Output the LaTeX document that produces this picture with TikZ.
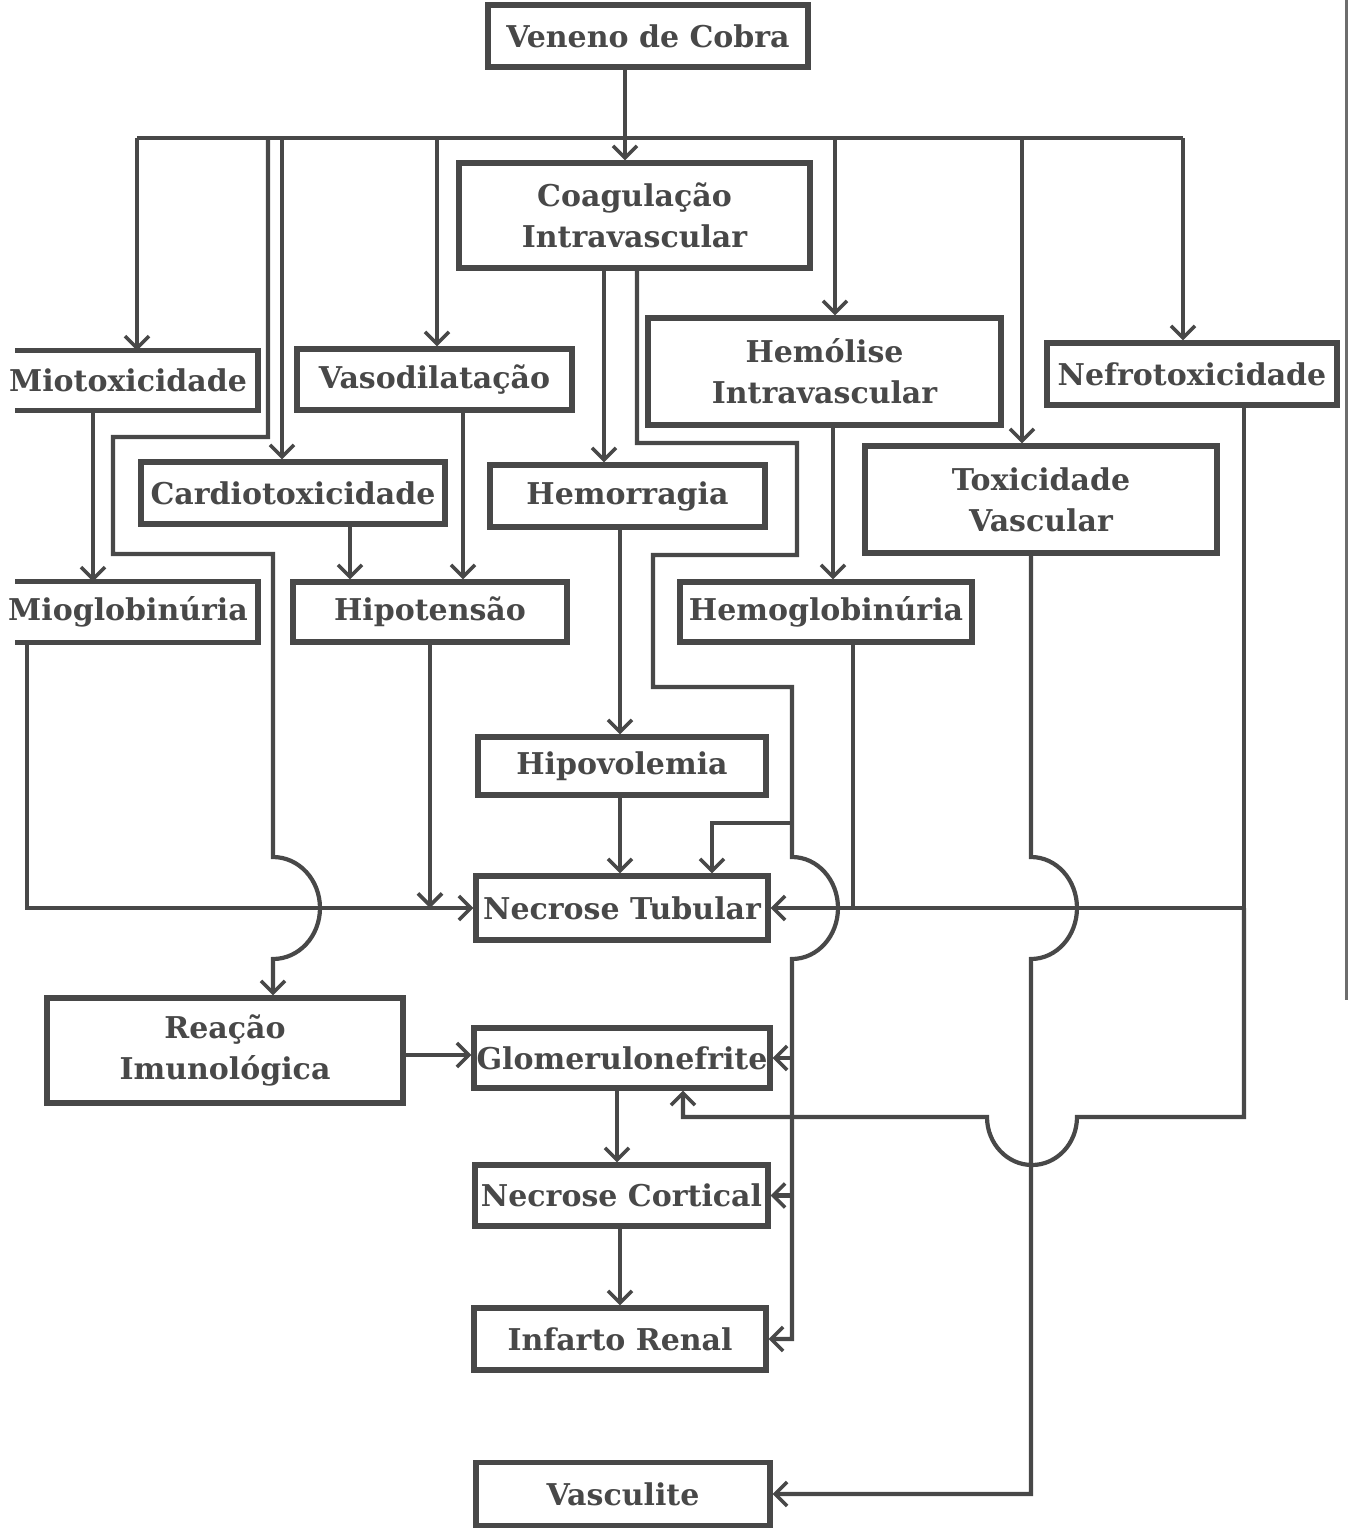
\documentclass[tikz,border=0pt]{standalone}
\usepackage{fontspec}
\setmainfont{DejaVu Serif}
\usetikzlibrary{arrows.meta}
\definecolor{ink}{RGB}{72,72,72}
\begin{document}
\begin{tikzpicture}[x=0.5pt,y=-0.5pt,
  txt/.style={text=ink, font=\fontsize{15}{20.5}\selectfont\bfseries, align=center, inner sep=0pt},
  box/.style={txt, draw=ink, line width=2.6pt},
  boxline/.style={draw=ink, line width=2.6pt},
  link/.style={draw=ink, line width=2.1pt},
  arr/.style={link, -{Straight Barb[length=6pt,width=12pt,line width=1.8pt]}},
]
\useasboundingbox (0,0) rectangle (1350,1528);

% ---------- nodes ----------
\node[box, minimum width=160pt, minimum height=31pt] (ven) at (648,36) {Veneno de Cobra};
\node[box, minimum width=175.5pt, minimum height=52.5pt] (coag) at (634.5,215.5) {Coagulação\\Intravascular};
\node[txt, minimum width=130pt, minimum height=29.5pt] (mio) at (128,380.5) {Miotoxicidade};
\node[box, minimum width=137.5pt, minimum height=30.5pt] (vaso) at (434.5,379.5) {Vasodilatação};
\node[box, minimum width=176.5pt, minimum height=53.5pt] (hemol) at (824.5,371.5) {Hemólise\\Intravascular};
\node[box, minimum width=145pt, minimum height=31pt] (nefro) at (1192,374) {Nefrotoxicidade};
\node[box, minimum width=152pt, minimum height=31pt] (card) at (293,493) {Cardiotoxicidade};
\node[box, minimum width=137.5pt, minimum height=31pt] (hemor) at (627.5,496) {Hemorragia};
\node[box, minimum width=176pt, minimum height=53.5pt] (toxv) at (1041,499.5) {Toxicidade\\Vascular};
\node[txt, minimum width=130pt, minimum height=30pt] (miog) at (128,612) {Mioglobinúria};
\node[box, minimum width=137pt, minimum height=30pt] (hipot) at (430,612) {Hipotensão};
\node[box, minimum width=146pt, minimum height=30pt] (hemog) at (826,612) {Hemoglobinúria};
\node[box, minimum width=144pt, minimum height=29pt] (hipov) at (622,766) {Hipovolemia};
\node[box, minimum width=146pt, minimum height=32pt] (nectub) at (622,908) {Necrose Tubular};
\node[box, minimum width=178pt, minimum height=52.5pt] (reac) at (225,1050.5) {Reação\\Imunológica};
\node[box, minimum width=148pt, minimum height=30pt] (glom) at (622,1058) {Glomerulonefrite};
\node[box, minimum width=146.5pt, minimum height=30.5pt] (neccort) at (621.5,1195.5) {Necrose Cortical};
\node[box, minimum width=146pt, minimum height=31pt] (infarto) at (620,1339) {Infarto Renal};
\node[box, minimum width=147pt, minimum height=31.5pt] (vascu) at (623,1494) {Vasculite};

% three-sided boxes cut by the left page edge
\coordinate (cut) at (15,0);
\coordinate (mioR) at (258,0);
\draw[boxline] (cut |- mio.north) -- (mioR |- mio.north) -- (mioR |- mio.south) -- (cut |- mio.south);
\draw[boxline] (cut |- miog.north) -- (mioR |- miog.north) -- (mioR |- miog.south) -- (cut |- miog.south);

% ---------- columns ----------
\coordinate (xT) at (625,0);
\coordinate (xMio) at (137,0);
\coordinate (xCard) at (282,0);
\coordinate (xVaso) at (437,0);
\coordinate (xHemol) at (835,0);
\coordinate (xTox) at (1022,0);
\coordinate (xNef) at (1183,0);
\coordinate (xReac) at (273,0);
\coordinate (xHr) at (604,0);
\coordinate (xC1) at (637,0);
\coordinate (xMg) at (93,0);
\coordinate (xCH) at (350,0);
\coordinate (xVH) at (463,0);
\coordinate (xHv) at (620,0);
\coordinate (xHg) at (833,0);
\coordinate (xHgb) at (853,0);
\coordinate (xNt) at (712,0);
\coordinate (xMgb) at (27,0);
\coordinate (xHpb) at (430,0);
\coordinate (xNfb) at (1244,0);
\coordinate (xTvb) at (1031,0);
\coordinate (xGc) at (617,0);
\coordinate (xGb) at (683,0);
\coordinate (yBus) at (0,138);
\coordinate (yRG) at (0,1055);

% ---------- connectors ----------
\draw[link] (xMio |- yBus) -- (xNef |- yBus);
\draw[arr] (xT |- ven.south) -- (xT |- coag.north);
\draw[arr] (xMio |- yBus) -- (xMio |- mio.north);
\draw[arr] (xCard |- yBus) -- (xCard |- card.north);
\draw[arr] (xVaso |- yBus) -- (xVaso |- vaso.north);
\draw[arr] (xHemol |- yBus) -- (xHemol |- hemol.north);
\draw[arr] (xTox |- yBus) -- (xTox |- toxv.north);
\draw[arr] (xNef |- yBus) -- (xNef |- nefro.north);

% to Reacao Imunologica (with jump)
\draw[arr] (268,138) -- (268,437) -- (113,437) -- (113,554) -- (273,554) -- (273,857)
  arc[start angle=-90,end angle=90,x radius=47,y radius=51] -- (xReac |- reac.north);

% Coagulacao -> Hemorragia
\draw[arr] (xHr |- coag.south) -- (xHr |- hemor.north);

% Coagulacao -> renal lesions (long path with jump)
\draw[arr] (xC1 |- coag.south) -- (637,443) -- (797,443) -- (797,555) -- (653,555) -- (653,687)
  -- (792,687) -- (792,857) arc[start angle=-90,end angle=90,x radius=46,y radius=51]
  -- (792,1339) -- (infarto.east);
\draw[arr] (792,823) -- (712,823) -- (xNt |- nectub.north);
\draw[arr] (792,1058) -- (glom.east);
\draw[arr] (792,1195.5) -- (neccort.east);

% simple vertical links
\draw[arr] (xMg |- mio.south) -- (xMg |- miog.north);
\draw[arr] (xCH |- card.south) -- (xCH |- hipot.north);
\draw[arr] (xVH |- vaso.south) -- (xVH |- hipot.north);
\draw[arr] (xHv |- hemor.south) -- (xHv |- hipov.north);
\draw[arr] (xHv |- hipov.south) -- (xHv |- nectub.north);
\draw[arr] (xHg |- hemol.south) -- (xHg |- hemog.north);
\draw[arr] (xGc |- glom.south) -- (xGc |- neccort.north);
\draw[arr] (xHv |- neccort.south) -- (xHv |- infarto.north);

% into Necrose Tubular from the left
\draw[arr] (xMgb |- miog.south) -- (27,908) -- (nectub.west);
\draw[arr] (xHpb |- hipot.south) -- (430,908);

% from Nefrotoxicidade
\draw[arr] (xNfb |- nefro.south) -- (1244,908) -- (nectub.east);
\draw[link] (xHgb |- hemog.south) -- (853,908);
\draw[arr] (1244,908) -- (1244,1117) -- (1077,1117)
  arc[start angle=0,end angle=180,x radius=45,y radius=48] -- (683,1117) -- (xGb |- glom.south);

% Toxicidade Vascular -> Vasculite
\draw[arr] (xTvb |- toxv.south) -- (1031,857) arc[start angle=-90,end angle=90,x radius=46,y radius=51]
  -- (1031,1494) -- (vascu.east);

% Reacao -> Glomerulonefrite
\draw[arr] (reac.east |- yRG) -- (glom.west |- yRG);

% scanned page edge
\draw[ink!80, line width=1.5pt] (1346,0) -- (1346,1000);
\end{tikzpicture}
\end{document}
